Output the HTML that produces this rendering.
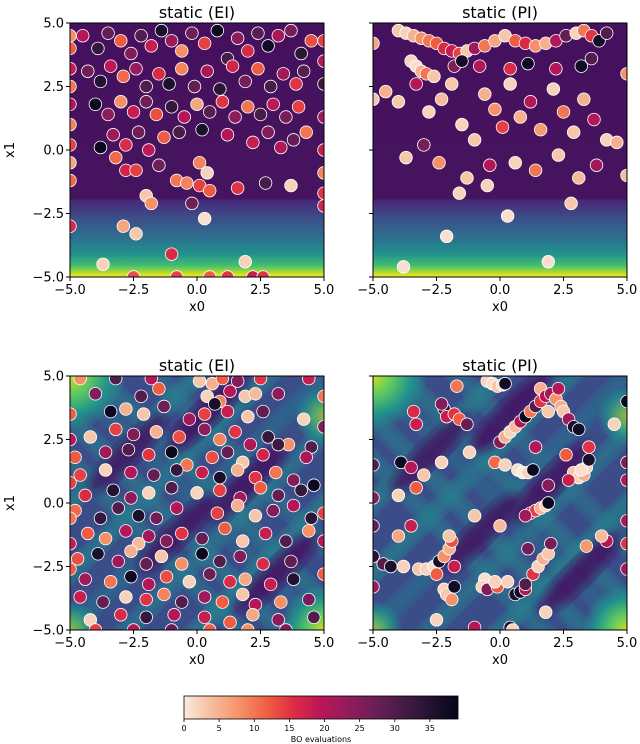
<!DOCTYPE html>
<html><head><meta charset="utf-8">
<style>
html,body{margin:0;padding:0;background:#fff;}
svg{display:block;font-family:"DejaVu Sans","Liberation Sans",sans-serif;}
</style></head>
<body>
<svg id="fig" width="640" height="744" viewBox="0 0 640 744" xmlns="http://www.w3.org/2000/svg">
<defs>
<linearGradient id="topBg" x1="0" y1="0" x2="0" y2="1">
<stop offset="0" stop-color="#45105e"/><stop offset="0.69" stop-color="#46145f"/>
<stop offset="0.70" stop-color="#472a79"/><stop offset="0.77" stop-color="#3c4f8a"/>
<stop offset="0.85" stop-color="#2c728e"/><stop offset="0.91" stop-color="#21918c"/>
<stop offset="0.955" stop-color="#44bf70"/><stop offset="0.985" stop-color="#bddf26"/>
<stop offset="1" stop-color="#fde725"/></linearGradient>
<radialGradient id="cornerG"><stop offset="0" stop-color="#c8e020"/><stop offset="0.35" stop-color="#5ec962"/><stop offset="0.7" stop-color="#21918c"/><stop offset="1" stop-color="#21918c" stop-opacity="0"/></radialGradient>
<linearGradient id="cbar" x1="0" y1="0" x2="1" y2="0">
<stop offset="0" stop-color="#faebdd"/><stop offset="0.1" stop-color="#f6bc9d"/><stop offset="0.2" stop-color="#f5936a"/>
<stop offset="0.3" stop-color="#f06043"/><stop offset="0.4" stop-color="#dd2c45"/><stop offset="0.5" stop-color="#b91657"/>
<stop offset="0.6" stop-color="#921c5b"/><stop offset="0.7" stop-color="#6a1f56"/><stop offset="0.8" stop-color="#451c47"/>
<stop offset="0.9" stop-color="#221331"/><stop offset="1" stop-color="#03051a"/></linearGradient>
<filter id="blur6"><feGaussianBlur stdDeviation="5"/></filter>
</defs>
</svg>
<script>
// ---- data ----
const eiTopPts = [[-4.5,4.5,20],[-3.9,4.0,33],[-3.5,4.6,28],[-3.0,4.3,12],[-2.6,3.8,25],[-2.2,4.5,30],[-1.8,4.1,18],[-1.4,4.7,36],[-1.0,4.3,22],[-0.6,3.9,8],[-0.2,4.6,27],[0.3,4.2,14],[0.8,4.7,38],[1.2,3.6,31],[1.6,4.4,24],[2.0,3.9,16],[2.4,4.6,29],[2.8,4.1,37],[3.2,4.5,21],[3.7,4.7,26],[4.1,3.8,34],[4.5,4.3,13],
[-4.3,3.1,27],[-3.8,2.7,35],[-3.4,3.3,19],[-2.9,2.9,11],[-2.4,3.2,23],[-2.0,2.5,30],[-1.5,3.0,16],[-1.1,2.6,36],[-0.6,3.2,9],[-0.1,2.5,28],[0.4,3.1,21],[0.9,2.4,34],[1.4,3.3,17],[1.9,2.7,26],[2.4,3.2,12],[2.9,2.5,31],[3.4,3.0,22],[3.9,2.6,15],[4.2,3.1,29],
[-4.0,1.8,38],[-3.5,1.4,24],[-3.0,1.9,8],[-2.5,1.5,18],[-2.0,1.9,27],[-1.6,1.4,13],[-1.0,1.7,33],[-0.5,1.3,20],[0.0,1.8,6],[0.5,1.5,29],[1.0,1.9,15],[1.5,1.3,24],[2.0,1.7,10],[2.5,1.4,31],[3.0,1.8,19],[3.5,1.3,26],[4.0,1.7,14],
[-3.8,0.1,38],[-3.3,0.6,22],[-2.8,0.2,16],[-2.3,0.7,27],[-1.9,0.0,19],[-1.3,0.5,12],[-0.7,0.7,31],[0.2,0.8,36],[1.2,0.6,20],[2.2,0.3,18],[2.8,0.7,25],[3.3,0.1,20],[3.8,0.4,28],[4.3,0.7,10],
[-3.2,-0.3,11],[-2.8,-0.8,17],[-2.4,-0.8,14],[-1.5,-0.6,27],[0.1,-0.5,9],[0.4,-0.9,2],[-0.8,-1.2,10],[-0.4,-1.3,9],[0.1,-1.4,14],[0.5,-1.6,12],[1.6,-1.5,15],[2.7,-1.3,31],[3.7,-1.4,2],[-2.0,-1.8,3],[-1.8,-2.1,8],[-0.2,-2.1,27],[0.3,-2.7,1],[-2.9,-3.0,6],[-2.4,-3.3,3],[-1.0,-4.1,16],[-3.7,-4.5,2],[1.9,-4.4,2],
[-0.8,-5,14],[0.5,-5,12],[1.2,-5,15],[2.2,-5,18],[2.6,-5,15],[-2.5,-5,13],
[-5,4.5,8],[-5,4.0,12],[-5,3.2,18],[-5,2.5,10],[-5,1.8,20],[-5,1.0,9],[-5,0.2,14],[-5,-0.5,6],[-5,-1.2,11],[-5,-3.0,16],
[5,4.3,14],[5,3.5,20],[5,2.6,33],[5,1.3,22],[5,0,18],[5,-0.9,9],[5,-1.7,15],[5,-2.2,17]];

const piTopPts = [[-4.0,4.7,3],[-3.7,4.6,2],[-3.4,4.5,5],[-3.1,4.4,8],[-2.8,4.3,10],[-2.5,4.2,12],[-2.2,4.0,16],[-1.9,3.9,18],[-1.6,3.8,14],[-1.3,3.9,3],[-1.0,4.0,22],[-0.6,4.1,10],[-0.2,4.3,6],[0.2,4.5,3],[0.6,4.3,12],[1.0,4.2,16],[1.4,4.1,8],[1.8,4.2,5],[2.2,4.3,20],[2.6,4.5,28],[3.0,4.6,2],[3.3,4.7,10],[3.6,4.5,15],[3.9,4.3,37],[4.2,4.6,30],
[-3.5,3.5,2],[-3.3,3.3,1],[-3.1,3.1,5],[-2.9,3.0,10],[-2.6,2.9,3],[-1.8,3.3,25],[-1.5,3.5,37],[-0.8,3.3,20],[0.4,3.2,16],[1.1,3.4,38],[2.2,3.2,20],[3.2,3.3,37],[3.6,3.6,30],
[-4.5,2.3,5],[-4.0,1.9,3],[-3.3,2.6,20],[-2.8,1.5,2],[-2.3,2.0,4],[-1.9,2.6,3],[-1.5,1.0,2],[-1.0,0.4,3],[-0.6,2.2,5],[-0.2,1.6,8],[0.1,0.9,14],[0.4,2.6,2],[0.8,1.3,5],[1.2,1.9,20],[1.6,0.8,7],[2.1,2.4,2],[2.5,1.5,10],[2.9,0.7,3],[3.3,2.0,5],[3.7,1.2,20],[4.2,0.4,2],
[-3.7,-0.3,3],[-3.0,0.2,26],[-2.4,-0.5,8],[-1.3,-1.1,3],[-0.4,-0.6,20],[0.6,-0.5,2],[1.4,-0.8,10],[2.3,-0.2,3],[3.1,-1.1,4],[3.8,-0.6,22],[-1.6,-1.7,2],[-0.5,-1.4,2],[0.3,-2.6,1],[-2.1,-3.4,1],[-3.8,-4.6,1],[1.9,-4.4,1],[2.8,-2.1,3],[4.6,0.3,5],
[-5,4.2,6],[-5,2.0,3],[5,3.0,8],[5,-1.0,4]];

const eiBotPts = [[-4.6,4.9,8],[-3.2,4.9,30],[-1.8,4.9,20],[0.1,4.8,3],[0.6,4.7,5],[1.0,4.9,12],[1.6,4.8,25],[2.5,4.9,15],[4.4,4.9,18],
[-4.0,4.3,25],[-2.2,4.2,30],[-1.5,4.5,12],[0.4,4.2,2],[0.9,4.0,9],[1.3,4.4,20],[1.9,4.2,3],[2.3,4.3,4],[3.2,4.3,24],
[-3.4,3.6,38],[-2.8,3.7,5],[-2.1,3.5,3],[-1.3,3.8,27],[-0.3,3.3,22],[0.3,3.5,14],[0.7,3.9,36],[1.2,3.6,18],[2.0,3.4,3],[2.6,3.6,28],[4.2,3.3,2],
[-4.2,2.6,3],[-3.2,2.9,14],[-2.5,2.7,25],[-1.6,2.8,5],[-0.7,2.6,13],[0.3,2.9,24],[0.9,2.5,9],[1.5,2.8,15],[2.1,2.3,20],[2.8,2.6,33],[3.6,2.3,8],[4.5,2.2,30],
[-4.8,1.8,12],[-3.6,2.0,22],[-2.7,2.1,30],[-1.9,1.9,15],[-1.0,2.0,38],[-0.4,1.5,10],[0.6,1.8,13],[1.2,2.0,28],[1.8,1.6,3],[2.6,1.9,17],[3.2,2.3,32],[4.3,1.8,21],
[-4.6,1.1,14],[-3.6,1.3,2],[-2.6,1.2,20],[-1.7,1.1,28],[-0.8,1.3,33],[0.2,1.2,18],[0.9,1.0,36],[1.6,1.3,5],[2.3,1.0,15],[3.1,1.2,10],[3.8,0.9,25],[4.6,0.7,38],
[-4.4,0.3,16],[-3.3,0.5,35],[-2.6,0.2,24],[-1.9,0.4,2],[-1.0,0.6,30],[0.0,0.4,2],[0.9,0.5,14],[1.7,0.2,22],[2.5,0.6,12],[3.2,0.3,28],[4.1,0.5,33],
[-4.8,-0.3,11],[-3.8,-0.6,33],[-3.1,-0.2,30],[-2.3,-0.5,36],[-1.6,-0.6,27],[-0.8,-0.2,20],[0.8,-0.4,14],[1.6,-0.1,5],[2.3,-0.5,3],[3.0,-0.3,25],[3.8,-0.1,20],[4.5,-0.6,34],
[-4.3,-1.2,12],[-3.6,-1.4,8],[-2.8,-1.1,20],[-2.3,-1.6,4],[-1.9,-1.3,22],[-1.2,-1.5,25],[-0.6,-1.2,15],[0.2,-1.4,28],[1.1,-1.0,12],[1.8,-1.5,3],[2.7,-1.2,18],[3.5,-1.5,30],[4.4,-1.1,8],
[-4.7,-2.2,13],[-3.9,-2.0,36],[-3.1,-2.3,22],[-2.6,-1.9,5],[-2.0,-2.4,28],[-1.4,-2.1,3],[-0.6,-2.4,8],[0.2,-2.0,38],[0.9,-2.3,30],[1.7,-2.1,25],[2.6,-2.4,16],[3.7,-2.3,28],
[-4.4,-3.0,22],[-3.4,-3.1,10],[-2.6,-2.9,38],[-1.9,-3.2,20],[-1.2,-2.9,13],[-0.3,-3.1,2],[0.5,-2.8,27],[1.3,-3.1,16],[1.9,-3.0,6],[2.9,-3.2,18],[3.8,-3.0,35],
[-4.6,-3.7,18],[-3.7,-3.9,28],[-2.8,-3.7,2],[-2.0,-3.8,15],[-1.3,-3.6,9],[-0.6,-3.9,30],[0.3,-3.7,22],[1.0,-3.9,12],[1.8,-3.6,3],[2.3,-4.0,20],[3.3,-3.9,8],[4.4,-3.8,26],
[-4.2,-4.6,2],[-3.0,-4.4,16],[-2.0,-4.5,33],[-0.9,-4.4,20],[0.3,-4.5,18],[1.3,-4.7,12],[2.2,-4.4,6],[3.2,-4.6,24],[4.6,-4.5,30],
[-4.0,-5,14],[-2.5,-5,20],[-1.0,-5,28],[0.5,-5,12],[2.0,-5,8],[3.5,-5,25],
[-5,3.5,12],[-5,2.5,20],[-5,0.8,14],[-5,-0.6,10],[-5,-1.6,18],[-5,-2.6,12],[5,4.2,10],[5,3.0,25],[5,-0.4,14],[5,-1.5,20],[5,-2.8,12]];

const piBotPts = [[-0.5,4.8,2],[-0.3,4.7,1],[-0.1,4.6,3],[0.1,4.65,1],[0.2,4.7,37],[-1.7,4.6,10],[1.6,4.5,5],
[-2.2,3.7,33],[-2.3,3.9,25],[-2.1,3.4,18],[-1.8,3.5,15],[-1.6,3.3,12],[-1.3,3.1,28],
[0.0,2.4,25],[0.2,2.6,5],[0.4,2.8,2],[0.6,3.0,4],[0.8,3.2,20],[1.0,3.4,38],[1.2,3.6,10],[1.4,3.8,30],[1.6,4.0,15],[1.8,4.2,20],[2.0,4.3,22],[2.2,4.1,8],[2.4,3.8,5],[2.5,3.6,3],[2.7,3.3,22],[2.9,3.0,36],[3.1,2.9,37],[1.9,3.6,3],[2.3,4.5,20],[3.5,2.2,15],[1.4,2.2,20],
[-1.2,2.0,2],[-0.2,1.6,11],[0.2,1.5,2],[0.7,1.3,1],[0.9,1.2,0],[1.1,1.2,2],[1.3,1.3,38],[2.6,1.9,12],
[2.9,1.2,3],[3.1,1.0,2],[3.3,1.1,5],[3.4,1.4,2],[3.5,1.7,36],[3.2,1.3,1],[2.7,0.9,18],[1.9,0.7,25],
[1.2,-0.4,20],[1.4,-0.3,14],[1.6,-0.2,5],[1.8,-0.1,2],[1.9,0.0,38],[1.0,-0.5,22],
[-4.0,0.3,2],[-3.9,1.6,38],[-3.5,1.4,20],[-3.3,0.6,12],[-4.0,-1.3,6],[-3.5,-0.9,18],[-3.0,1.1,3],
[-3.2,-2.6,3],[-2.9,-2.6,2],[-2.6,-2.5,1],[-2.4,-2.3,36],[-2.2,-2.1,8],[-2.0,-1.8,5],[-1.9,-1.5,13],[-2.0,-1.3,3],[-2.5,-2.8,12],[-1.8,-2.5,18],
[-2.2,-3.4,2],[-2.1,-3.6,3],[-1.9,-3.8,8],[-1.8,-3.3,37],[-4.6,-2.4,30],[-4.3,-2.5,36],[-3.8,-2.5,2],
[-0.6,-3.0,1],[-0.7,-3.3,2],[-0.5,-3.4,25],[-0.1,-3.3,12],[0.3,-3.1,2],[0.6,-3.6,36],[0.8,-3.5,38],[1.0,-3.4,20],[1.3,-2.8,15],[1.5,-2.5,2],[1.7,-2.2,5],[1.9,-2.0,3],[1.1,-1.8,27],[-0.2,-3.1,2],[1.0,-3.2,30],
[0.4,-4.9,35],[0.5,-5,2],[-2.5,-4.6,2],[1.8,-4.3,2],[-1.0,-4.9,20],
[-2.3,1.6,2],[-3.4,3.6,16],[-3.3,3.1,18],[4.5,3.1,2],[4.2,-1.5,20],[4.0,-1.3,4],[3.4,-1.7,7],[2.0,-1.6,26],[0.0,-0.9,4],[-1.0,-0.5,3],
[5,4.0,38],[5,1.6,25],[5,0.9,20],[5,-0.7,20],[5,-1.6,15],[5,-2.6,22],[-5,1.5,30],[-5,0.2,25],[-5,-0.9,28],[-5,-2.1,35],[-5,-3.3,22]];

const xTicks = [-5.0,-2.5,0.0,2.5,5.0];
const yTicks = [5.0,2.5,0.0,-2.5,-5.0];
const tickLabels = ["\u22125.0","\u22122.5","0.0","2.5","5.0"];
const cbTicks = [0,5,10,15,20,25,30,35];
const cbMax = 39;

// ---- rendering ----
const NS = "http://www.w3.org/2000/svg";
const svg = document.getElementById('fig');
function mk(tag, attrs, parent){const e=document.createElementNS(NS,tag);for(const k in attrs)e.setAttribute(k,attrs[k]);(parent||svg).appendChild(e);return e;}
const stops=[[0,[250,235,221]],[0.1,[246,188,157]],[0.2,[245,147,106]],[0.3,[240,96,67]],[0.4,[221,44,69]],[0.5,[185,22,87]],[0.6,[146,28,91]],[0.7,[106,31,86]],[0.8,[69,28,71]],[0.9,[34,19,49]],[1,[3,5,26]]];
function cmap(v){let t=Math.max(0,Math.min(1,v/cbMax));for(let i=0;i<stops.length-1;i++){if(t<=stops[i+1][0]){const a=stops[i],b=stops[i+1];const f=(t-a[0])/(b[0]-a[0]);return 'rgb('+a[1].map((c,j)=>Math.round(c+(b[1][j]-c)*f)).join(',')+')';}}return 'rgb(3,5,26)';}

const W=254,H=254;
const panels=[
 {id:'ei-top',L:70,T:23,pts:eiTopPts,title:'static (EI)',bg:'top',ylab:true},
 {id:'pi-top',L:373,T:23,pts:piTopPts,title:'static (PI)',bg:'top',ylab:false},
 {id:'ei-bottom',L:70,T:376,pts:eiBotPts,title:'static (EI)',bg:'bot',ylab:true},
 {id:'pi-bottom',L:373,T:376,pts:piBotPts,title:'static (PI)',bg:'bot',ylab:false}];

panels.forEach((p,pi)=>{
  const sx=x=>p.L+(x+5)/10*W, sy=y=>p.T+(5-y)/10*H;
  const g=mk('g',{});
  
  
  const cp=mk('clipPath',{id:'clip'+pi},g); mk('rect',{x:p.L,y:p.T,width:W,height:H},cp);
  const bg=mk('g',{'clip-path':'url(#clip'+pi+')'},g);
  
  
  if(p.bg==='top'){
    mk('rect',{x:p.L,y:p.T,width:W,height:H,fill:'url(#topBg)'},bg);
  } else {
    mk('rect',{x:p.L,y:p.T,width:W,height:H,fill:'#3a4d89'},bg);
    const cx=p.L+W/2, cy=p.T+H/2;
    const bands=[[-40,-60,'#277f8e'],[40,60,'#2a788e'],[0,0,'#2c6d8e'],[-90,20,'#26828e'],[90,-30,'#26828e']];
    bands.forEach(b=>{mk('rect',{x:cx-180,y:cy+b[0]-9,width:360,height:18,fill:b[2],opacity:0.75,transform:'rotate(-45 '+cx+' '+cy+')',filter:'url(#blur6)'},bg);
      mk('rect',{x:cx+b[1]-9,y:cy-180,width:18,height:360,fill:b[2],opacity:0.6,transform:'rotate(-45 '+cx+' '+cy+')',filter:'url(#blur6)'},bg);});
    const darks=[[-20,30],[50,-20],[-70,-50],[80,70],[10,-90]];
    darks.forEach(d=>mk('ellipse',{cx:cx+d[0],cy:cy+d[1],rx:55,ry:13,fill:'#440f5f',opacity:0.8,transform:'rotate(-45 '+(cx+d[0])+' '+(cy+d[1])+')',filter:'url(#blur6)'},bg));
    mk('circle',{cx:p.L,cy:p.T,r:55,fill:'url(#cornerG)'},bg);
    mk('circle',{cx:p.L+W,cy:p.T+H,r:45,fill:'url(#cornerG)'},bg);
    mk('circle',{cx:p.L+W,cy:p.T+40,r:30,fill:'url(#cornerG)',opacity:0.7},bg);
    mk('circle',{cx:p.L,cy:p.T+H,r:30,fill:'url(#cornerG)',opacity:0.7},bg);
  }
  const sc=mk('g',{'clip-path':'url(#clip'+pi+')'},g);
  
  
  p.pts.forEach(d=>{
    const c=mk('circle',{cx:sx(d[0]),cy:sy(d[1]),r:6.3,fill:cmap(d[2]),stroke:'#ffffff','stroke-width':0.8},sc);
    
    
  });
  const fr=mk('rect',{x:p.L,y:p.T,width:W,height:H,fill:'none',stroke:'#000','stroke-width':1},g);
  
  
  xTicks.forEach((t,i)=>{
    mk('line',{x1:sx(t),x2:sx(t),y1:p.T+H,y2:p.T+H+4,stroke:'#000','stroke-width':1},g);
    const tx=mk('text',{x:sx(t),y:p.T+H+17,'text-anchor':'middle','font-size':13,fill:'#000'},g);
    tx.textContent=tickLabels[i];
    
    
  });
  yTicks.forEach((t,i)=>{
    mk('line',{x1:p.L-4,x2:p.L,y1:sy(t),y2:sy(t),stroke:'#000','stroke-width':1},g);
    if(p.ylab){
      const ty=mk('text',{x:p.L-6,y:sy(t)+4.5,'text-anchor':'end','font-size':13,fill:'#000'},g);
      ty.textContent=tickLabels[4-i];
      
      
    }
  });
  const xl=mk('text',{x:p.L+W/2,y:p.T+H+34,'text-anchor':'middle','font-size':13,fill:'#000'},g);
  xl.textContent='x0';
  
  
  if(p.ylab){
    const yl=mk('text',{x:14,y:p.T+H/2,'text-anchor':'middle','font-size':13,fill:'#000',transform:'rotate(-90 14 '+(p.T+H/2)+')'},g);
    yl.textContent='x1';
    
    
  }
  const ti=mk('text',{x:p.L+W/2,y:p.T-5,'text-anchor':'middle','font-size':16,fill:'#000'},g);
  ti.textContent=p.title;
  
  
});

// colorbar
const cbL=184, cbR=458, cbT=696, cbB=719;
const cbx=v=>cbL+v/cbMax*(cbR-cbL);
const cbg=mk('g',{});


mk('rect',{x:cbL,y:cbT,width:cbR-cbL,height:cbB-cbT,fill:'url(#cbar)',stroke:'#000','stroke-width':0.8},cbg);
cbTicks.forEach(t=>{
  mk('line',{x1:cbx(t),x2:cbx(t),y1:cbB,y2:cbB+3,stroke:'#000','stroke-width':0.8},cbg);
  const tt=mk('text',{x:cbx(t),y:cbB+12,'text-anchor':'middle','font-size':8,fill:'#000'},cbg);
  tt.textContent=String(t);
  
  
});
const cbl=mk('text',{x:(cbL+cbR)/2,y:742,'text-anchor':'middle','font-size':8,fill:'#000'},cbg);
cbl.textContent='BO evaluations';


</script>
</body></html>
